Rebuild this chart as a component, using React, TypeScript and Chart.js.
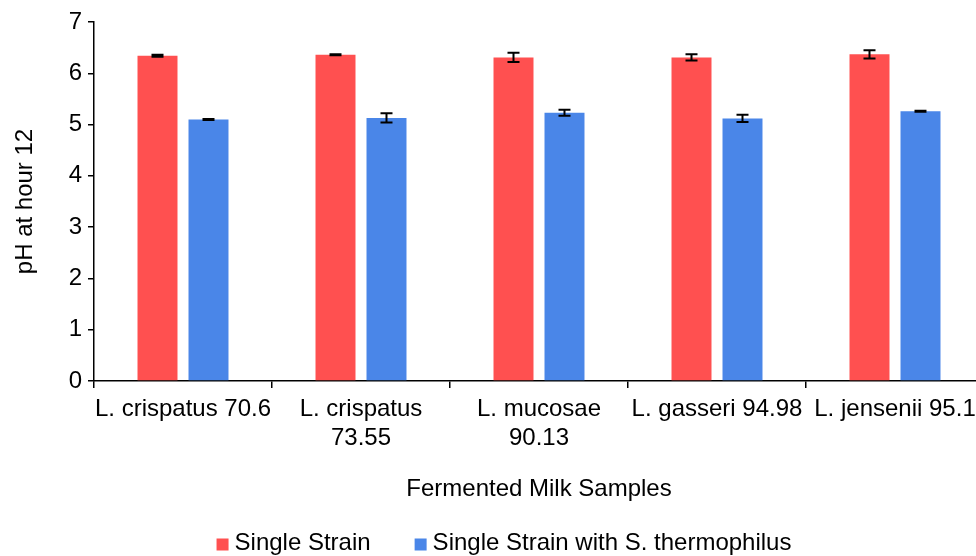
import { useEffect, useRef } from 'react';
import { Chart, registerables } from 'chart.js';

Chart.register(...registerables);

const FONT = "'Liberation Sans', Arial, sans-serif";

// Fermented milk samples (long names wrapped onto two lines)
const sampleLabels: (string | string[])[] = [
  'L. crispatus 70.6',
  ['L. crispatus', '73.55'],
  ['L. mucosae', '90.13'],
  'L. gasseri 94.98',
  'L. jensenii 95.1',
];

// pH after 12 hours of fermentation
const singleStrainPH = [6.34, 6.36, 6.31, 6.31, 6.37];
const singleStrainErr = [0.02, 0.01, 0.09, 0.06, 0.08];

const withThermophilusPH = [5.1, 5.13, 5.23, 5.12, 5.26];
const withThermophilusErr = [0.01, 0.09, 0.06, 0.07, 0.01];

const yTicks = [0, 1, 2, 3, 4, 5, 6, 7];

const seriesNames = ['Single Strain', 'Single Strain with S. thermophilus'];
const seriesColors = ['#FF5050', '#4A86E8'];

// Vertical error bars with caps, drawn over each bar
const errorBarPlugin = {
  id: 'errorBars',
  afterDatasetsDraw(chart: any) {
    const { ctx } = chart;
    const yScale = chart.scales.y;
    chart.data.datasets.forEach((ds: any, di: number) => {
      const errs: number[] = ds.errors || [];
      const meta = chart.getDatasetMeta(di);
      meta.data.forEach((bar: any, i: number) => {
        const v = ds.data[i] as number;
        const e = errs[i] ?? 0;
        const x = bar.x;
        const yHi = yScale.getPixelForValue(v + e);
        const yLo = yScale.getPixelForValue(v - e);
        const cap = 6;
        ctx.save();
        ctx.strokeStyle = '#000';
        ctx.lineWidth = 2;
        ctx.beginPath();
        ctx.moveTo(x, yHi);
        ctx.lineTo(x, yLo);
        ctx.moveTo(x - cap, yHi);
        ctx.lineTo(x + cap, yHi);
        ctx.moveTo(x - cap, yLo);
        ctx.lineTo(x + cap, yLo);
        ctx.stroke();
        ctx.restore();
      });
    });
  },
};

// Legend row under the axis title
const legendPlugin = {
  id: 'bottomLegend',
  afterDraw(chart: any) {
    const { ctx } = chart;
    const items = chart.data.datasets.map((ds: any) => ({
      text: String(ds.label),
      color: ds.backgroundColor as string,
    }));
    const box = 12;
    const gap = 6;
    const spacing = 44;
    const centerX = 504;
    const boxTop = 538.5;
    const textY = 543;
    ctx.save();
    ctx.font = `24px ${FONT}`;
    ctx.textBaseline = 'middle';
    ctx.textAlign = 'left';
    const widths = items.map((it: any) => ctx.measureText(it.text).width);
    const total =
      widths.reduce((a: number, w: number) => a + box + gap + w, 0) + spacing * (items.length - 1);
    let x = centerX - total / 2;
    items.forEach((it: any, i: number) => {
      ctx.fillStyle = it.color;
      ctx.fillRect(x, boxTop, box, box);
      ctx.fillStyle = '#000';
      ctx.fillText(it.text, x + box + gap, textY);
      x += box + gap + widths[i] + spacing;
    });
    ctx.restore();
  },
};

export default function App() {
  const canvasRef = useRef<HTMLCanvasElement | null>(null);

  useEffect(() => {
    if (!canvasRef.current) return;
    const chart = new Chart(canvasRef.current, {
      type: 'bar',
      data: {
        labels: sampleLabels,
        datasets: [
          {
            label: seriesNames[0],
            data: singleStrainPH,
            backgroundColor: seriesColors[0],
            errors: singleStrainErr,
            categoryPercentage: 0.573,
            barPercentage: 0.784,
          } as any,
          {
            label: seriesNames[1],
            data: withThermophilusPH,
            backgroundColor: seriesColors[1],
            errors: withThermophilusErr,
            categoryPercentage: 0.573,
            barPercentage: 0.784,
          } as any,
        ],
      },
      options: {
        responsive: false,
        animation: false,
        devicePixelRatio: 1,
        layout: { padding: { top: 22, right: 8, bottom: 52, left: 0 } },
        plugins: {
          legend: { display: false },
          tooltip: { enabled: false },
        },
        scales: {
          x: {
            grid: {
              offset: true,
              drawOnChartArea: false,
              drawTicks: true,
              tickLength: 7,
              color: '#000',
              lineWidth: 1.5,
            },
            border: { display: true, color: '#000', width: 1.5 },
            ticks: {
              color: '#000',
              font: { family: FONT, size: 24 },
              padding: 7,
              maxRotation: 0,
              minRotation: 0,
              autoSkip: false,
            },
            title: {
              display: true,
              text: 'Fermented Milk Samples',
              color: '#000',
              font: { family: FONT, size: 24 },
              padding: { top: 0, bottom: 0 },
            },
            afterFit(scale: any) {
              scale.height = 123;
            },
          },
          y: {
            min: 0,
            max: 7,
            afterBuildTicks(scale: any) {
              scale.ticks = yTicks.map((v) => ({ value: v }));
            },
            grid: {
              drawOnChartArea: false,
              drawTicks: true,
              tickLength: 6,
              color: '#000',
              lineWidth: 1.5,
            },
            border: { display: true, color: '#000', width: 1.5 },
            ticks: {
              color: '#000',
              font: { family: FONT, size: 24 },
              padding: 6,
            },
            title: {
              display: true,
              text: 'pH at hour 12',
              color: '#000',
              font: { family: FONT, size: 24 },
              padding: { top: 11, bottom: 0 },
            },
            afterFit(scale: any) {
              scale.width = 94;
            },
          },
        },
      },
      plugins: [errorBarPlugin, legendPlugin],
    });
    return () => chart.destroy();
  }, []);

  return (
    <div
      style={{
        position: 'fixed',
        left: 0,
        top: 0,
        width: 976,
        height: 556,
        overflow: 'hidden',
        background: '#fff',
      }}
    >
      <canvas
        ref={canvasRef}
        width={992}
        height={556}
        style={{ display: 'block', width: 992, height: 556 }}
      />
    </div>
  );
}
